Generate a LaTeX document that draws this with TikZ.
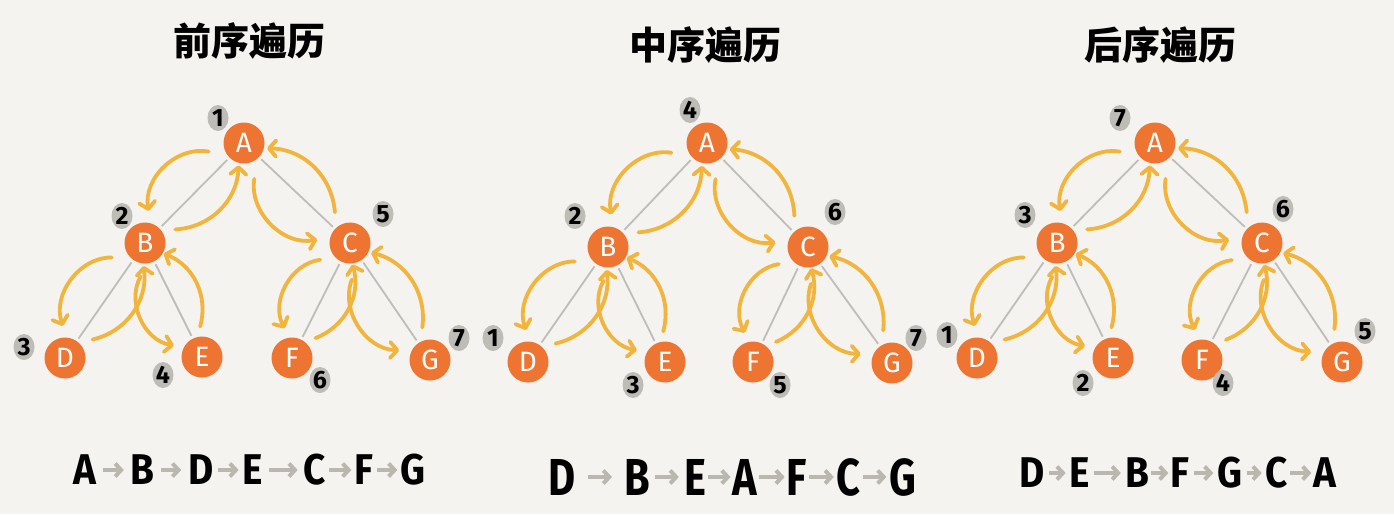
\documentclass[tikz,border=0pt]{standalone}
\usepackage{fontspec}
\usepackage{graphicx}
\setmainfont{Fira Sans}
\newfontfamily\cjk{Noto Sans CJK SC}
\usetikzlibrary{arrows.meta,shapes.geometric,calc}
\definecolor{bg}{HTML}{F4F3EF}
\definecolor{nodeor}{HTML}{EE7431}
\definecolor{arr}{HTML}{F1B43C}
\definecolor{edgeg}{HTML}{BDBDBB}
\definecolor{blob}{HTML}{BDBCB7}
\definecolor{seqg}{HTML}{B9B7AF}
\newcommand\nar[1]{\scalebox{0.9}[1]{#1}}
\newcommand\narb[1]{\scalebox{0.8}[1]{#1}}
\newcommand\treelinks[1]{%
  \foreach \p/\c in {A/B,A/C,B/D,B/E,C/F,C/G}{%
    \draw[edgeline] (#1\p) -- (#1\c);
    \draw[godown] ($(#1\p)!0.22!(#1\c)!19pt!-90:(#1\c)$) to[bend right=55] ($(#1\p)!0.82!(#1\c)!20pt!-90:(#1\c)$);
    \draw[goup] ($(#1\c)!0.22!(#1\p)!12pt!-90:(#1\p)$) to[bend right=42] ($(#1\c)!0.86!(#1\p)!12pt!-90:(#1\p)$);
  }}
\begin{document}
\begin{tikzpicture}[x=1pt,y=1pt,
  nd/.style={circle,fill=nodeor,minimum size=41pt,inner sep=0pt,text=white,font=\fontsize{28}{28}\selectfont},
  num/.style={ellipse,fill=blob,minimum width=21pt,minimum height=26pt,inner sep=0pt,font=\fontsize{25}{25}\selectfont\bfseries},
  edgeline/.style={draw=edgeg,line width=1.8pt,shorten <=3pt,shorten >=3pt},
  trav/.style={draw=arr,line width=3.8pt,line cap=round,-{Straight Barb[length=7pt,width=16pt,line cap=round,line join=round]}},
  godown/.style={trav},
  goup/.style={trav},
  ttl/.style={font=\cjk\bfseries\fontsize{38}{38}\selectfont},
  seq/.style={inner sep=1pt,font=\bfseries\fontsize{43}{43}\selectfont},
  seqb/.style={inner sep=1pt,font=\bfseries\fontsize{52}{52}\selectfont},
  sarr/.style={draw=seqg,line width=4pt,-{Straight Barb[length=6pt,width=13pt]}}
]
\fill[bg] (0,0) rectangle (1394,-514);
\useasboundingbox (0,0) rectangle (1394,-514);

% titles
\node[ttl] (t1) at (249,-41) {前序遍历};
\node[ttl] (t2) at (705,-45) {中序遍历};
\node[ttl] (t3) at (1160,-45) {后序遍历};

% ---------- tree 1 (preorder) ----------
\node[nd] (pA) at (244,-143) {A};
\node[nd] (pB) at (145,-243) {B};
\node[nd] (pC) at (350,-243) {C};
\node[nd] (pD) at (65,-358) {D};
\node[nd] (pE) at (202,-357) {E};
\node[nd] (pF) at (292,-358) {F};
\node[nd] (pG) at (430,-360) {G};
\treelinks{p}
\node[num] (pn1) at (218,-118) {1};
\node[num] (pn2) at (122,-216) {2};
\node[num] (pn5) at (383,-214) {5};
\node[num] (pn3) at (24,-347) {3};
\node[num] (pn4) at (163,-375) {4};
\node[num] (pn6) at (320,-380) {6};
\node[num] (pn7) at (459,-338) {7};

% ---------- tree 2 (inorder) ----------
\node[nd] (iA) at (707,-143) {A};
\node[nd] (iB) at (608,-247) {B};
\node[nd] (iC) at (808,-247) {C};
\node[nd] (iD) at (528,-362) {D};
\node[nd] (iE) at (665,-362) {E};
\node[nd] (iF) at (753,-362) {F};
\node[nd] (iG) at (892,-363) {G};
\treelinks{i}
\node[num] (in4) at (690,-110) {4};
\node[num] (in2) at (575,-216) {2};
\node[num] (in6) at (835,-212) {6};
\node[num] (in1) at (493,-338) {1};
\node[num] (in3) at (633,-385) {3};
\node[num] (in5) at (780,-385) {5};
\node[num] (in7) at (916,-338) {7};

% ---------- tree 3 (postorder) ----------
\node[nd] (oA) at (1155,-143) {A};
\node[nd] (oB) at (1057,-243) {B};
\node[nd] (oC) at (1262,-243) {C};
\node[nd] (oD) at (977,-358) {D};
\node[nd] (oE) at (1113,-358) {E};
\node[nd] (oF) at (1202,-360) {F};
\node[nd] (oG) at (1342,-362) {G};
\treelinks{o}
\node[num] (on7) at (1120,-118) {7};
\node[num] (on3) at (1025,-215) {3};
\node[num] (on6) at (1283,-209) {6};
\node[num] (on1) at (947,-335) {1};
\node[num] (on2) at (1083,-383) {2};
\node[num] (on4) at (1223,-383) {4};
\node[num] (on5) at (1365,-331) {5};

% ---------- sequences ----------
\node[seq] (s11) at (85,-470) {\nar{A}};
\node[seq] (s12) at (142,-470) {\nar{B}};
\node[seq] (s13) at (201,-470) {\nar{D}};
\node[seq] (s14) at (253,-470) {\nar{E}};
\node[seq] (s15) at (315,-470) {\nar{C}};
\node[seq] (s16) at (364,-470) {\nar{F}};
\node[seq] (s17) at (413,-470) {\nar{G}};
\foreach \a/\b/\s in {1/2/5,2/3/6,3/4/3,4/5/5,5/6/2,6/7/2}{\draw[sarr,shorten <=\s pt,shorten >=\s pt] (s1\a) -- (s1\b);}

\node[seqb] (s21) at (562,-477) {\narb{D}};
\node[seqb] (s22) at (637,-477) {\narb{B}};
\node[seqb] (s23) at (695,-477) {\narb{E}};
\node[seqb] (s24) at (745,-477) {\narb{A}};
\node[seqb] (s25) at (797,-477) {\narb{F}};
\node[seqb] (s26) at (848,-477) {\narb{C}};
\node[seqb] (s27) at (903,-477) {\narb{G}};
\foreach \a/\b/\s in {1/2/11,2/3/4,3/4/1,4/5/1,5/6/1,6/7/2}{\draw[sarr,shorten <=\s pt,shorten >=\s pt] (s2\a) -- (s2\b);}

\node[seq] (s31) at (1032,-473) {\nar{D}};
\node[seq] (s32) at (1080,-473) {\nar{E}};
\node[seq] (s33) at (1137,-473) {\nar{B}};
\node[seq] (s34) at (1180,-473) {\nar{F}};
\node[seq] (s35) at (1230,-473) {\nar{G}};
\node[seq] (s36) at (1277,-473) {\nar{C}};
\node[seq] (s37) at (1325,-473) {\nar{A}};
\foreach \a/\b/\s in {1/2/3,2/3/3,3/4/1,4/5/3,5/6/3,6/7/1}{\draw[sarr,shorten <=\s pt,shorten >=\s pt] (s3\a) -- (s3\b);}
\end{tikzpicture}
\end{document}
